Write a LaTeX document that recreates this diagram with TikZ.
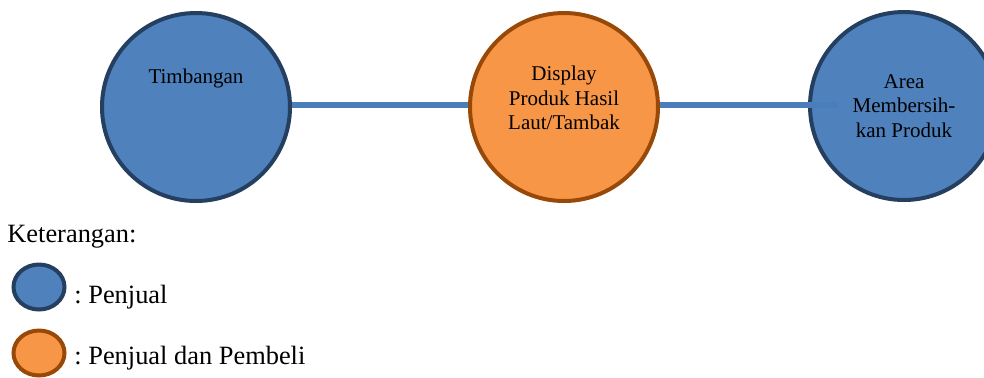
\documentclass[tikz,border=0pt]{standalone}
\usepackage{fontspec}
\setmainfont{Liberation Serif}
\frenchspacing
\usetikzlibrary{shapes.geometric}
\definecolor{penjual}{HTML}{4F81BD}
\definecolor{penjualrand}{HTML}{243F60}
\definecolor{pembeli}{HTML}{F79646}
\definecolor{pembelirand}{HTML}{984807}
\definecolor{garis}{HTML}{4A7EBB}
\begin{document}
\begin{tikzpicture}[x=0.5pt, y=-0.5pt,
        biru/.style={circle, fill=penjual, draw=penjualrand, line width=2pt, minimum size=94pt, inner sep=0pt},
        oranye/.style={circle, fill=pembeli, draw=pembelirand, line width=2pt, minimum size=94pt, inner sep=0pt},
        isi/.style={align=center, font=\fontsize{10.5}{12.3}\selectfont, inner sep=0pt},
        ket/.style={anchor=base west, font=\fontsize{13.2}{15}\selectfont, inner sep=0pt},
        sambung/.style={draw=garis, line width=3pt}]
            \useasboundingbox (0,0) rectangle (984,377);
            \node[biru] (tim) at (196,107) {};
            \node[oranye] (disp) at (564,107) {};
            \node[biru] (area) at (904,106) {};
            \coordinate (areaujung) at (838,105);
            \draw[sambung] (tim.east |- 0,105) -- (disp.west |- 0,105);
            \draw[sambung] (disp.east |- 0,105) -- (areaujung);
            \node[isi] (timtxt) at (196,78) {Timbangan};
            \node[isi] (disptxt) at (564,98) {Display\\Produk Hasil\\Laut/Tambak};
            \node[isi] (areatxt) at (904,106) {Area\\Membersih-\\kan Produk};
            \node[ket] (judul) at (7,242) {Keterangan:};
            \node[ellipse, fill=penjual, draw=penjualrand, line width=2pt, minimum width=25.5pt, minimum height=22.5pt, inner sep=0pt] (lgbiru) at (39,287) {};
            \node[ellipse, fill=pembeli, draw=pembelirand, line width=2pt, minimum width=25.5pt, minimum height=22.5pt, inner sep=0pt] (lgoranye) at (39,353) {};
            \node[ket] (ketbiru) at (74,303) {: Penjual};
            \node[ket] (ketoranye) at (74,364) {: Penjual dan Pembeli};
        \end{tikzpicture}
\end{document}
